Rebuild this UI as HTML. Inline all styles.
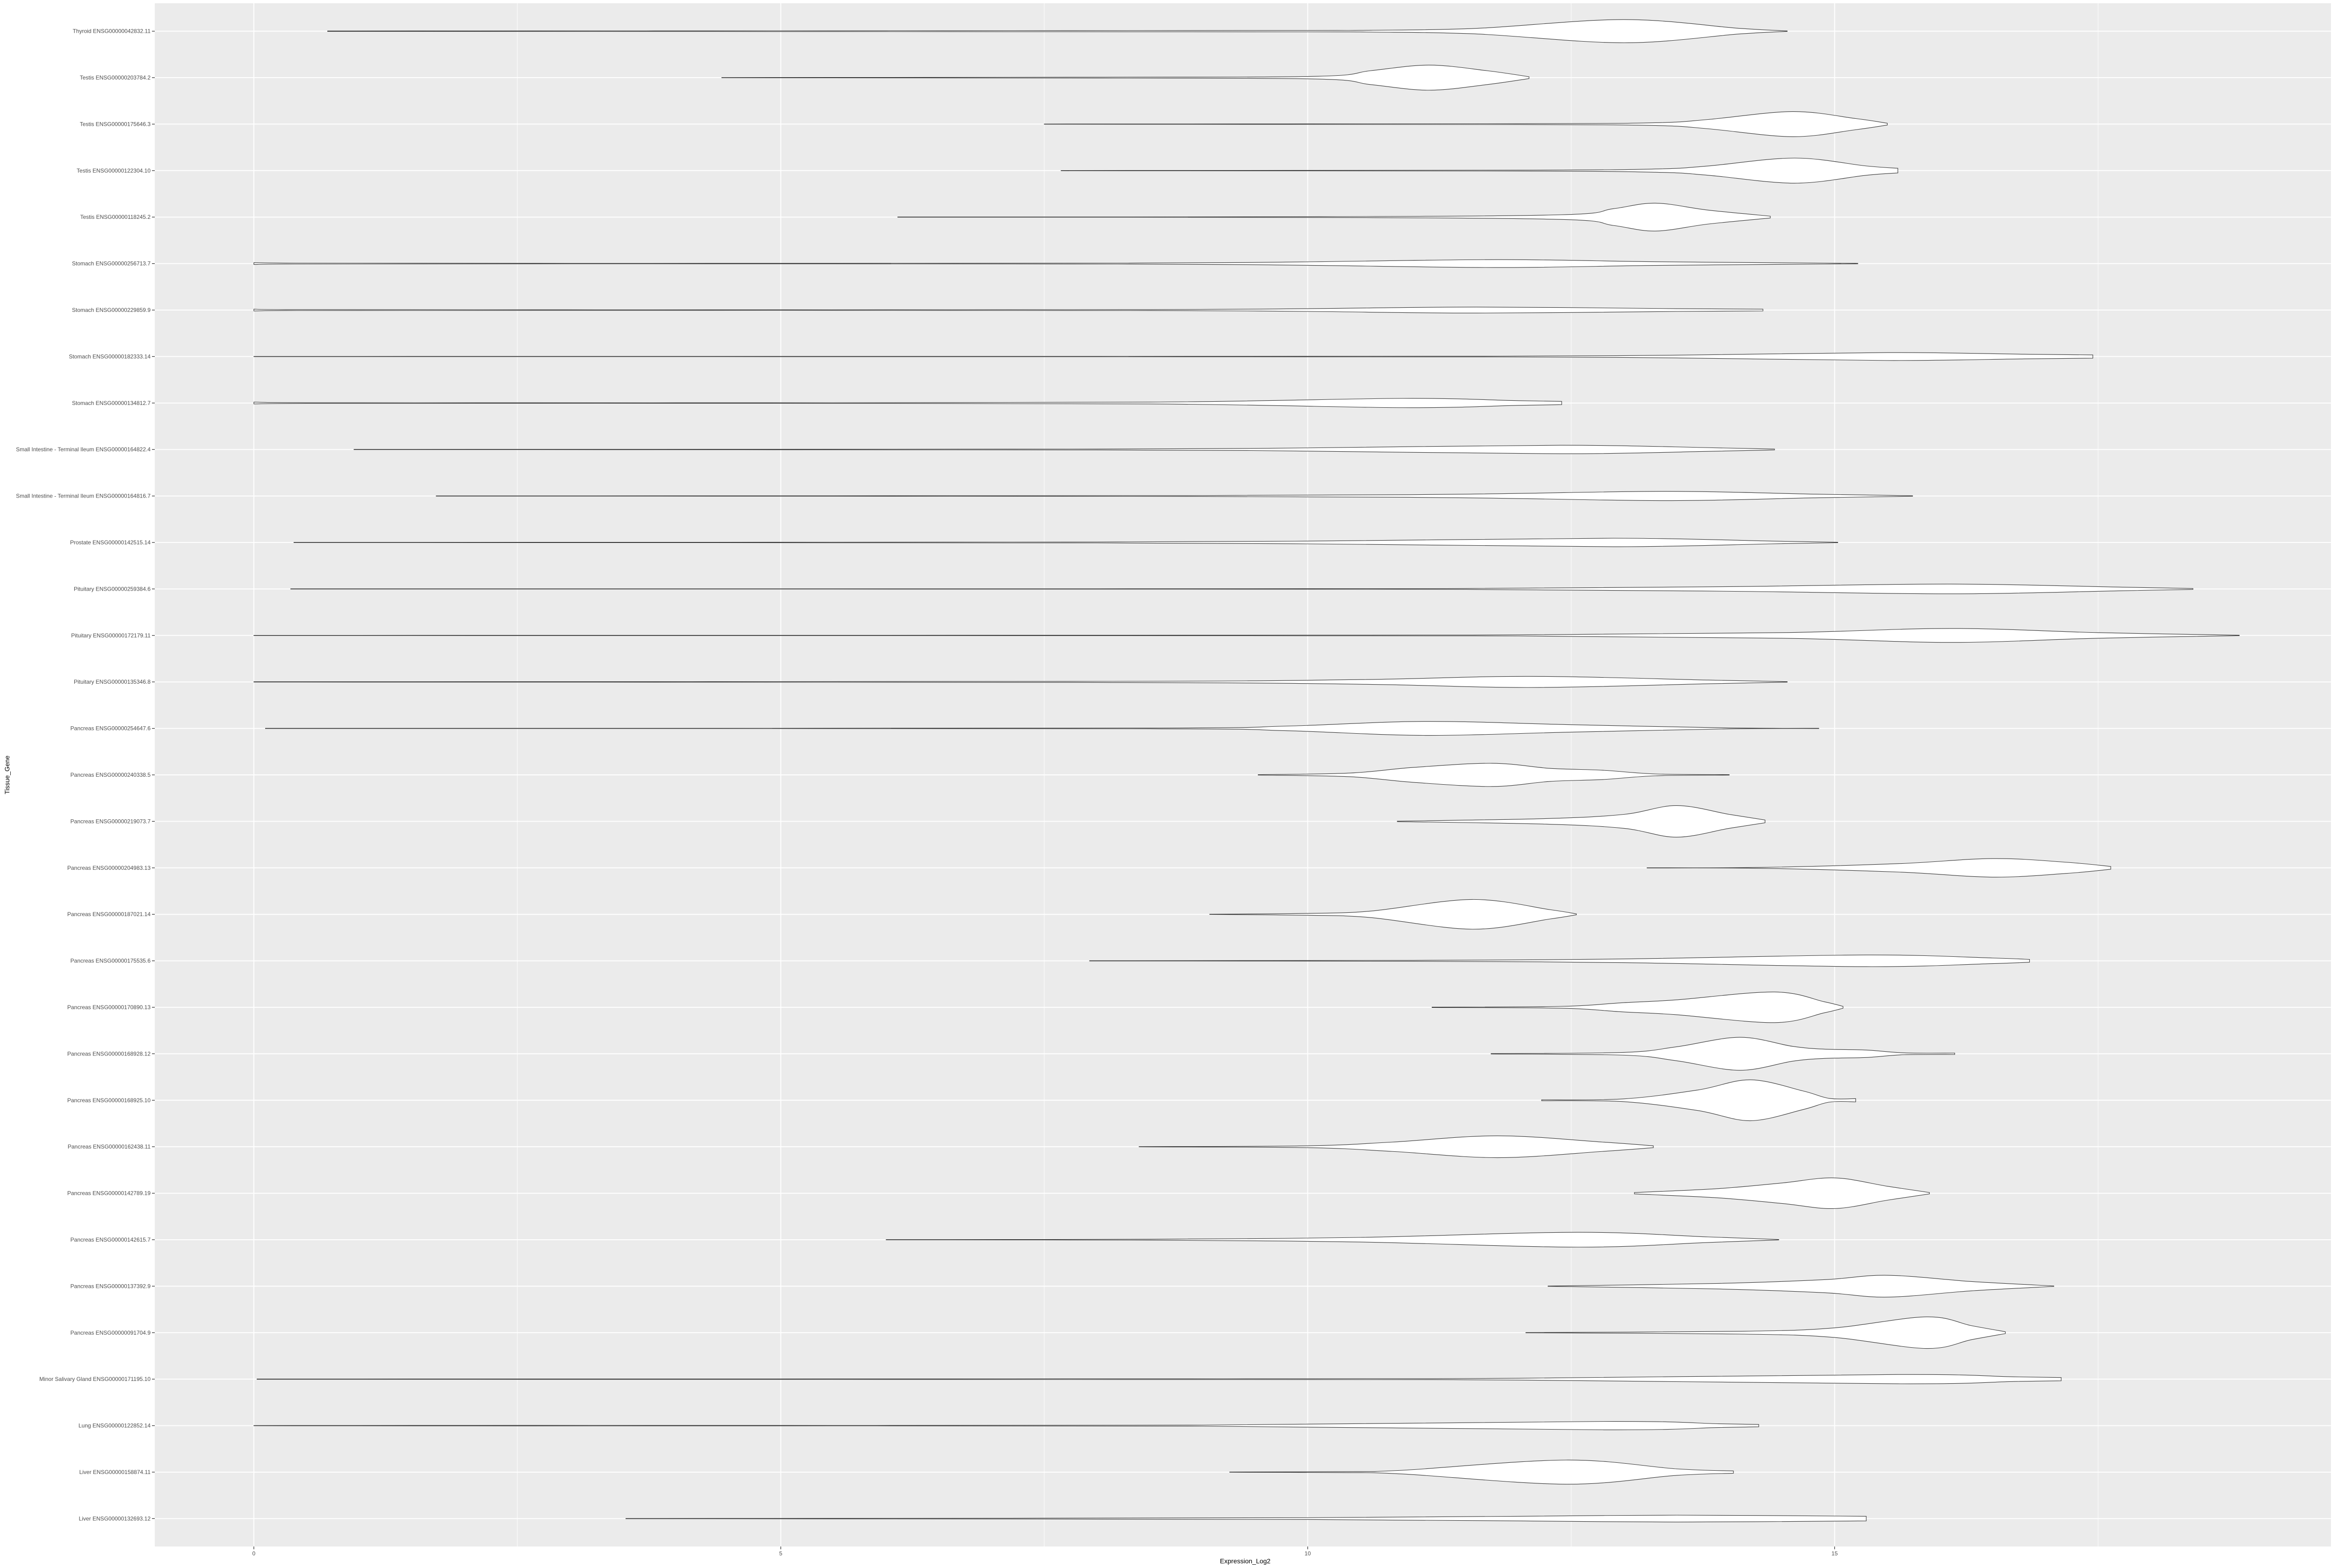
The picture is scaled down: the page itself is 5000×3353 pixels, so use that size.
<!DOCTYPE html>
<html><head><meta charset="utf-8"><style>
html,body{margin:0;padding:0;background:#fff;}
svg{display:block;font-family:"Liberation Sans",Arial,sans-serif;}
</style></head><body>
<svg id="chart" width="5000" height="3353" viewBox="0 0 5000 3353" xmlns="http://www.w3.org/2000/svg">
<rect x="0" y="0" width="5000" height="3353" fill="#ffffff"/>
<rect x="331" y="7" width="4654" height="3300" fill="#EBEBEB"/>
<g id="grid"></g>
<g id="violins"></g>
<g id="yaxis"></g>
<g id="xaxis"></g>
<text x="2663" y="3343" font-size="14" text-anchor="middle" fill="#000">Expression_Log2</text>
<text x="0" y="0" font-size="14" text-anchor="middle" fill="#000" transform="translate(20,1657) rotate(-90)">Tissue_Gene</text>
</svg>
<script>
// categories, top to bottom
const categories = [
"Thyroid ENSG00000042832.11","Testis ENSG00000203784.2","Testis ENSG00000175646.3","Testis ENSG00000122304.10","Testis ENSG00000118245.2",
"Stomach ENSG00000256713.7","Stomach ENSG00000229859.9","Stomach ENSG00000182333.14","Stomach ENSG00000134812.7",
"Small Intestine - Terminal Ileum ENSG00000164822.4","Small Intestine - Terminal Ileum ENSG00000164816.7",
"Prostate ENSG00000142515.14","Pituitary ENSG00000259384.6","Pituitary ENSG00000172179.11","Pituitary ENSG00000135346.8",
"Pancreas ENSG00000254647.6","Pancreas ENSG00000240338.5","Pancreas ENSG00000219073.7","Pancreas ENSG00000204983.13",
"Pancreas ENSG00000187021.14","Pancreas ENSG00000175535.6","Pancreas ENSG00000170890.13","Pancreas ENSG00000168928.12",
"Pancreas ENSG00000168925.10","Pancreas ENSG00000162438.11","Pancreas ENSG00000142789.19","Pancreas ENSG00000142615.7",
"Pancreas ENSG00000137392.9","Pancreas ENSG00000091704.9","Minor Salivary Gland ENSG00000171195.10",
"Lung ENSG00000122852.14","Liver ENSG00000158874.11","Liver ENSG00000132693.12"];
// density profiles: [expression value, half-width as fraction of row band]
const densities = [
[[0.7,0.005],[6,0.01],[10,0.015],[10.6,0.02],[11.6,0.06],[13.0,0.25],[14.1,0.06],[14.55,0.005]],
[[4.44,0.003],[8,0.01],[10.1,0.03],[10.6,0.15],[11.15,0.27],[11.7,0.15],[12.1,0.02]],
[[7.5,0.002],[12,0.01],[13.3,0.03],[13.8,0.1],[14.6,0.27],[15.2,0.12],[15.5,0.02]],
[[7.66,0.002],[12,0.01],[13.3,0.035],[13.8,0.1],[14.62,0.27],[15.3,0.1],[15.6,0.05]],
[[6.11,0.002],[10,0.008],[12.4,0.05],[12.9,0.18],[13.3,0.30],[13.8,0.15],[14.39,0.02]],
[[0,0.02],[0.4,0.01],[3,0.005],[8.2,0.01],[9.9,0.035],[11.8,0.085],[13.3,0.04],[14.9,0.01],[15.22,0.005]],
[[0,0.02],[0.3,0.01],[5,0.006],[8.5,0.01],[10.0,0.03],[11.6,0.065],[13.5,0.03],[14.32,0.02]],
[[0,0.003],[8,0.004],[11.8,0.008],[13.5,0.03],[15.5,0.085],[16.8,0.05],[17.45,0.035]],
[[0,0.02],[0.5,0.008],[4,0.006],[8.5,0.02],[10.9,0.1],[12.0,0.05],[12.41,0.035]],
[[0.95,0.003],[8,0.01],[10,0.035],[12.4,0.092],[13.8,0.04],[14.43,0.01]],
[[1.73,0.003],[9,0.01],[11.5,0.04],[13.4,0.1],[14.8,0.04],[15.74,0.005]],
[[0.38,0.003],[8,0.01],[10.5,0.04],[12.9,0.092],[14.4,0.03],[15.03,0.005]],
[[0.35,0.002],[8,0.004],[11.5,0.01],[14,0.05],[16.1,0.105],[17.7,0.04],[18.4,0.01]],
[[0,0.002],[8,0.005],[12,0.012],[14.5,0.06],[16.1,0.15],[17.5,0.06],[18.84,0.005]],
[[0,0.004],[8,0.012],[10.5,0.05],[12.1,0.12],[13.8,0.04],[14.55,0.005]],
[[0.11,0.003],[8.5,0.008],[9.8,0.05],[11.1,0.15],[12.5,0.08],[14,0.01],[14.85,0.002]],
[[9.53,0.005],[10.4,0.04],[11.0,0.16],[11.75,0.25],[12.3,0.14],[12.8,0.1],[13.3,0.02],[14.0,0.005]],
[[10.85,0.005],[12.26,0.06],[13.0,0.15],[13.5,0.34],[14.0,0.15],[14.34,0.03]],
[[13.22,0.003],[14.3,0.01],[15.6,0.09],[16.5,0.2],[17.2,0.12],[17.62,0.03]],
[[9.07,0.003],[10,0.02],[10.6,0.07],[11.56,0.32],[12.3,0.1],[12.55,0.01]],
[[7.93,0.003],[11,0.01],[13,0.04],[15.3,0.126],[16.5,0.06],[16.85,0.03]],
[[11.18,0.005],[12.4,0.02],[13.0,0.1],[13.5,0.16],[14.43,0.33],[14.9,0.12],[15.08,0.02]],
[[11.74,0.005],[13.0,0.03],[13.5,0.15],[14.1,0.355],[14.6,0.16],[14.9,0.1],[15.3,0.08],[15.66,0.02],[16.14,0.015]],
[[12.22,0.01],[13.0,0.03],[13.7,0.22],[14.2,0.44],[14.7,0.2],[14.95,0.04],[15.2,0.035]],
[[8.4,0.003],[10,0.02],[10.8,0.1],[11.8,0.235],[12.8,0.1],[13.28,0.02]],
[[13.1,0.015],[13.9,0.1],[14.5,0.22],[15.0,0.33],[15.5,0.15],[15.9,0.015]],
[[6.0,0.003],[8.5,0.01],[10.5,0.05],[12.56,0.16],[13.8,0.06],[14.47,0.005]],
[[12.28,0.003],[13.9,0.06],[14.9,0.14],[15.5,0.235],[16.3,0.1],[17.08,0.005]],
[[12.07,0.003],[14.1,0.03],[14.98,0.1],[15.87,0.34],[16.3,0.15],[16.62,0.02]],
[[0.03,0.004],[9.2,0.008],[12,0.02],[15.6,0.1],[16.7,0.05],[17.15,0.035]],
[[0,0.003],[2.5,0.006],[9,0.012],[12.8,0.09],[13.9,0.04],[14.28,0.025]],
[[9.26,0.003],[10.3,0.01],[10.9,0.04],[12.45,0.26],[13.5,0.07],[14.04,0.025]],
[[3.53,0.003],[7,0.008],[10,0.02],[12.0,0.05],[13.5,0.074],[15.3,0.05]]
];
const xTicks = [0,5,10,15];
const xTickLabels = ["0","5","10","15"];
const xMinor = [2.5,7.5,12.5,17.5];

const NS="http://www.w3.org/2000/svg";
const PL=331, PR=4985, PT=7, PB=3307;
const xMin=-0.94, xMax=19.71;
function xs(v){return PL+(v-xMin)/(xMax-xMin)*(PR-PL);}
const band=(PB-PT)/(categories.length-1+1.2);
function ys(i){return PT+0.6*band+i*band;}
function mk(tag,attrs,parent){const e=document.createElementNS(NS,tag);for(const k in attrs)e.setAttribute(k,attrs[k]);parent.appendChild(e);return e;}

const grid=document.getElementById('grid');
xMinor.forEach(v=>{
  const l=mk('line',{x1:xs(v),x2:xs(v),y1:PT,y2:PB,stroke:'#fff','stroke-width':1},grid);
  
  
});
xTicks.forEach(v=>{
  const l=mk('line',{x1:xs(v),x2:xs(v),y1:PT,y2:PB,stroke:'#fff','stroke-width':2},grid);
  
  
});
categories.forEach((c,i)=>{
  const l=mk('line',{x1:PL,x2:PR,y1:ys(i),y2:ys(i),stroke:'#fff','stroke-width':2},grid);
  
  
});

function clamp(v,a,b){const lo=Math.min(a,b),hi=Math.max(a,b);return Math.max(lo,Math.min(hi,v));}
function smoothPath(pts){
  let d='M'+pts[0][0].toFixed(1)+','+pts[0][1].toFixed(2);
  for(let i=0;i<pts.length-1;i++){
    const p0=pts[Math.max(i-1,0)],p1=pts[i],p2=pts[i+1],p3=pts[Math.min(i+2,pts.length-1)];
    const c1x=clamp(p1[0]+(p2[0]-p0[0])/6,p1[0],p2[0]),c1y=p1[1]+(p2[1]-p0[1])/6;
    const c2x=clamp(p2[0]-(p3[0]-p1[0])/6,p1[0],p2[0]),c2y=p2[1]-(p3[1]-p1[1])/6;
    d+=' C'+c1x.toFixed(1)+','+c1y.toFixed(2)+' '+c2x.toFixed(1)+','+c2y.toFixed(2)+' '+p2[0].toFixed(1)+','+p2[1].toFixed(2);
  }
  return d;
}
const vg=document.getElementById('violins');
densities.forEach((prof,i)=>{
  const cy=ys(i);
  const top=prof.map(p=>[xs(p[0]),cy-Math.max(p[1]*band,0.3)]);
  const bot=prof.slice().reverse().map(p=>[xs(p[0]),cy+Math.max(p[1]*band,0.3)]);
  let d=smoothPath(top);
  d+=' L'+bot[0][0].toFixed(1)+','+bot[0][1].toFixed(2);
  d+=smoothPath(bot).replace(/^M[^ C]+/,'');
  d+=' Z';
  const p=mk('path',{d:d,fill:'#ffffff',stroke:'#333333','stroke-width':1.1},vg);
  
  
});

const ya=document.getElementById('yaxis');
categories.forEach((c,i)=>{
  const t=mk('line',{x1:PL-6,x2:PL,y1:ys(i),y2:ys(i),stroke:'#333','stroke-width':1.3},ya);
  
  
  const tx=mk('text',{x:PL-9,y:ys(i)+4,'font-size':12,'text-anchor':'end',fill:'#4D4D4D'},ya);
  tx.textContent=c;
  
  
});
const xa=document.getElementById('xaxis');
xTicks.forEach((v,i)=>{
  const t=mk('line',{x1:xs(v),x2:xs(v),y1:PB,y2:PB+6,stroke:'#333','stroke-width':1.3},xa);
  
  
  const tx=mk('text',{x:xs(v),y:PB+19,'font-size':12,'text-anchor':'middle',fill:'#4D4D4D'},xa);
  tx.textContent=xTickLabels[i];
  
  
});
</script>
</body></html>
